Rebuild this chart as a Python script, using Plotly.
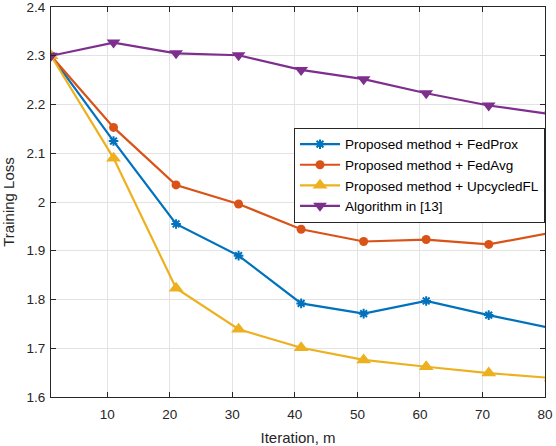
import plotly.graph_objects as go

# iterations (last point sits just past the right edge, like the original)
iters = [1, 11, 21, 31, 41, 51, 61, 71, 81]

fedprox = [2.300, 2.125, 1.955, 1.890, 1.792, 1.771, 1.797, 1.768, 1.741]
fedavg = [2.300, 2.153, 2.035, 1.996, 1.944, 1.919, 1.923, 1.913, 1.937]
upcycled = [2.300, 2.090, 1.823, 1.739, 1.701, 1.676, 1.662, 1.649, 1.639]
algo13 = [2.300, 2.327, 2.305, 2.301, 2.271, 2.252, 2.223, 2.198, 2.180]

names = ["Proposed method + FedProx", "Proposed method + FedAvg",
         "Proposed method + UpcycledFL", "Algorithm in [13]"]

x_ticks = [10, 20, 30, 40, 50, 60, 70, 80]
y_ticks = [1.6, 1.7, 1.8, 1.9, 2.0, 2.1, 2.2, 2.3, 2.4]

series = [
    (fedprox, "#0072BD", dict(symbol="asterisk-open", size=8, line=dict(width=2, color="#0072BD"))),
    (fedavg, "#D95319", dict(symbol="circle", size=9, color="#D95319")),
    (upcycled, "#EDB120", dict(symbol="triangle-up", size=13, color="#EDB120")),
    (algo13, "#7E2F8E", dict(symbol="triangle-down", size=12, color="#7E2F8E")),
]

fig = go.Figure()
for (vals, col, mk), nm in zip(series, names):
    fig.add_trace(go.Scatter(x=iters, y=vals, name=nm, mode="lines+markers",
                             line=dict(color=col, width=2.2), marker=mk,
                             cliponaxis=True))

axis_common = dict(showline=True, linecolor="#262626", linewidth=1, mirror="ticks",
                   ticks="inside", ticklen=5, tickcolor="#262626",
                   showgrid=True, gridcolor="#E3E3E3", gridwidth=1,
                   zeroline=False, automargin=False, ticklabeloverflow="allow",
                   tickfont=dict(size=13.5, color="#262626"))

fig.update_xaxes(range=[1, 80], tickvals=x_ticks, ticklabelstandoff=5,
                 title=dict(text="Iteration, m", font=dict(size=15, color="#262626"), standoff=14),
                 **axis_common)
fig.update_yaxes(range=[1.6, 2.4], tickvals=y_ticks, ticktext=[f"{v:g}" for v in y_ticks],
                 ticklabelstandoff=2,
                 title=dict(text="Training Loss", font=dict(size=15, color="#262626"), standoff=8),
                 **axis_common)

fig.update_layout(
    width=556, height=446,
    margin=dict(l=51, r=11, t=7, b=49),
    plot_bgcolor="white", paper_bgcolor="white",
    font=dict(family="Liberation Sans, Arial, sans-serif", color="#262626"),
    legend=dict(x=1.0, xanchor="right", y=0.69, yanchor="top",
                bgcolor="white", bordercolor="#262626", borderwidth=1,
                font=dict(size=13.5, color="black"), tracegroupgap=0,
                itemwidth=40),
    showlegend=True,
)

# page body has a default 8px margin; drop it so the figure fills the window
fig.write_html("out.html", config={"displayModeBar": False},
               post_script="document.body.style.margin='0';")
